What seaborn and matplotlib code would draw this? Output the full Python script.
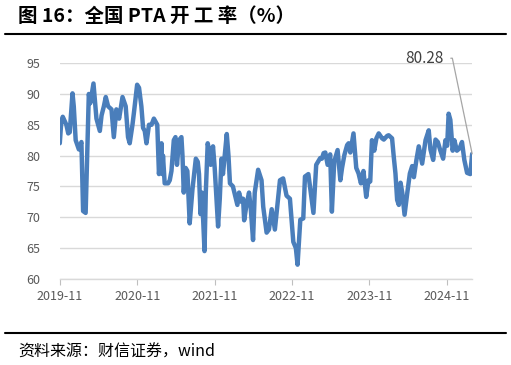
import pandas as pd
import matplotlib.pyplot as plt
import matplotlib.dates as mdates
import seaborn as sns

# -------------------------------
# data (PTA operating rate, %)
# -------------------------------
dates = [
    "2019-11-01", "2019-11-08", "2019-11-15", "2019-12-02", "2019-12-11", "2019-12-18",
    "2019-12-31", "2020-01-06", "2020-01-15", "2020-01-30", "2020-02-11", "2020-02-19",
    "2020-03-02", "2020-03-17", "2020-03-24", "2020-04-08", "2020-04-17", "2020-04-22",
    "2020-05-08", "2020-05-16", "2020-05-27", "2020-06-05", "2020-06-16", "2020-07-02",
    "2020-07-13", "2020-07-25", "2020-08-07", "2020-08-23", "2020-09-07", "2020-09-18",
    "2020-09-26", "2020-10-09", "2020-10-16", "2020-10-31", "2020-11-09", "2020-11-20",
    "2020-11-28", "2020-12-06", "2020-12-14", "2020-12-26", "2021-01-07", "2021-01-18",
    "2021-02-03", "2021-02-11", "2021-02-23", "2021-02-27", "2021-03-02", "2021-03-10",
    "2021-03-26", "2021-04-03", "2021-04-11", "2021-04-22", "2021-04-30", "2021-05-07",
    "2021-05-17", "2021-05-28", "2021-06-02", "2021-06-08", "2021-06-17", "2021-06-25",
    "2021-07-06", "2021-07-19", "2021-07-27", "2021-08-04", "2021-08-13", "2021-08-19",
    "2021-08-26", "2021-09-02", "2021-09-14", "2021-09-20", "2021-09-29", "2021-10-05",
    "2021-10-13", "2021-10-24", "2021-11-01", "2021-11-17", "2021-11-25", "2021-12-03",
    "2021-12-10", "2021-12-28", "2022-01-05", "2022-01-12", "2022-01-26", "2022-02-16",
    "2022-02-24", "2022-03-07", "2022-03-15", "2022-03-20", "2022-03-31", "2022-04-12",
    "2022-04-20", "2022-05-01", "2022-05-09", "2022-05-25", "2022-06-10", "2022-06-18",
    "2022-07-04", "2022-07-15", "2022-07-28", "2022-08-12", "2022-09-05", "2022-09-20",
    "2022-10-06", "2022-10-22", "2022-11-07", "2022-11-19", "2022-11-27", "2022-12-10",
    "2022-12-24", "2023-01-01", "2023-01-17", "2023-02-10", "2023-02-23", "2023-03-14",
    "2023-03-22", "2023-03-30", "2023-04-07", "2023-04-18", "2023-04-30", "2023-05-08",
    "2023-05-19", "2023-06-04", "2023-06-17", "2023-06-25", "2023-07-06", "2023-07-19",
    "2023-07-26", "2023-08-03", "2023-08-18", "2023-08-31", "2023-09-11", "2023-09-22",
    "2023-10-04", "2023-10-17", "2023-10-28", "2023-11-05", "2023-11-13", "2023-11-24",
    "2023-12-04", "2023-12-15", "2023-12-31", "2024-01-08", "2024-01-24", "2024-01-31",
    "2024-02-16", "2024-02-24", "2024-03-03", "2024-03-11", "2024-03-19", "2024-03-27",
    "2024-04-04", "2024-04-15", "2024-04-28", "2024-05-10", "2024-05-21", "2024-05-29",
    "2024-06-10", "2024-06-21", "2024-07-07", "2024-07-23", "2024-08-07", "2024-08-15",
    "2024-08-28", "2024-09-08", "2024-09-19", "2024-10-01", "2024-10-14", "2024-10-25",
    "2024-11-02", "2024-11-09", "2024-11-17", "2024-11-28", "2024-12-06", "2024-12-18",
    "2024-12-31", "2025-01-11", "2025-01-22", "2025-02-04", "2025-02-19", "2025-02-28",
]
rate = [
    82.0, 85.5, 86.3, 85.0, 83.6, 83.8,
    90.1, 88.0, 82.5, 81.0, 82.2, 71.0,
    70.7, 90.0, 88.5, 91.7, 88.0, 86.0,
    84.0, 86.5, 88.0, 89.5, 88.0, 87.5,
    83.0, 87.5, 86.0, 89.5, 88.0, 83.0,
    82.0, 85.0, 87.0, 91.5, 91.0, 88.0,
    84.5, 84.0, 82.0, 85.0, 85.0, 86.0,
    85.0, 77.0, 82.0, 77.0, 80.0, 75.5,
    75.5, 76.0, 77.5, 82.5, 83.0, 78.5,
    82.5, 83.0, 80.0, 74.0, 78.0, 77.5,
    69.0, 74.5, 77.0, 79.5, 79.0, 77.0,
    70.5, 74.0, 64.5, 74.0, 82.0, 81.0,
    78.5, 81.5, 78.0, 68.5, 73.0, 79.5,
    77.0, 83.5, 80.0, 75.5, 75.0, 72.0,
    74.0, 72.5, 73.0, 69.5, 72.0, 74.0,
    71.5, 66.3, 74.0, 77.7, 76.0, 71.7,
    67.5, 68.0, 71.3, 68.0, 76.0, 76.3,
    73.5, 73.0, 66.0, 65.0, 62.3, 69.6,
    69.8, 76.6, 77.0, 70.7, 78.5, 79.6,
    79.5, 80.4, 80.5, 78.5, 80.2, 70.9,
    79.0, 80.9, 76.0, 78.0, 80.1, 81.7,
    82.0, 80.5, 83.6, 78.0, 77.1, 75.5,
    77.5, 73.3, 76.0, 75.8, 82.5, 80.8,
    82.8, 83.6, 82.8, 82.6, 83.2, 83.3,
    82.8, 79.8, 77.1, 72.8, 72.0, 75.6,
    74.0, 70.4, 74.0, 77.1, 78.3, 76.5,
    79.3, 81.5, 78.7, 82.5, 84.1, 81.0,
    79.3, 82.6, 82.2, 80.8, 79.5, 82.5,
    81.6, 86.8, 85.8, 80.8, 82.5, 80.8,
    81.2, 82.2, 79.3, 77.2, 77.0, 80.28,
]
tick_labels = ["2019-11", "2020-11", "2021-11", "2022-11", "2023-11", "2024-11"]
y_ticks = [60, 65, 70, 75, 80, 85, 90, 95]

df = pd.DataFrame({"date": pd.to_datetime(dates), "rate": rate})

# -------------------------------
# style
# -------------------------------
sns.set_style("white")
plt.rcParams['font.family'] = ['Noto Sans CJK SC', 'DejaVu Sans']

fig = plt.figure(figsize=(5.11, 3.65), dpi=100)
ax = fig.add_axes([0.117, 0.236, 0.807, 0.591])

sns.lineplot(data=df, x="date", y="rate", ax=ax, color="#4A7EBB", linewidth=3.2)

ax.set_xlim(df["date"].iloc[0], df["date"].iloc[-1])
ax.set_ylim(60, 95)
ax.set_yticks(y_ticks)
ax.set_yticklabels([str(v) for v in y_ticks])
ax.yaxis.grid(True, color="#D9D9D9", linewidth=1)
ax.set_axisbelow(True)

tick_pos = pd.to_datetime([t + "-01" for t in tick_labels])
ax.set_xticks(tick_pos)
ax.set_xticklabels(tick_labels)
ax.xaxis.set_minor_locator(mdates.MonthLocator(bymonth=5))

for s in ["top", "right", "left"]:
    ax.spines[s].set_visible(False)
ax.spines["bottom"].set_color("#D9D9D9")
ax.spines["bottom"].set_linewidth(1)

ax.tick_params(axis="x", which="major", length=4, width=0.8, color="#BFBFBF",
               colors="#595959", labelsize=9, pad=4, direction="out", bottom=True)
ax.tick_params(axis="x", which="minor", length=0)
ax.tick_params(axis="y", length=0, colors="#595959", labelsize=9, pad=14)
ax.set_xlabel("")
ax.set_ylabel("")

# label on the last point, leader goes right then down to the point
ax.annotate("80.28", xy=(df["date"].iloc[-1], rate[-1]),
            xytext=(pd.Timestamp("2024-10-15"), 95.8), textcoords="data",
            ha="right", va="center", fontsize=11, color="#404040",
            annotation_clip=False,
            arrowprops=dict(arrowstyle="-", color="#A6A6A6", lw=0.9,
                            relpos=(1, 0.5), shrinkA=3, shrinkB=0,
                            connectionstyle="arc,angleA=0,armA=9,angleB=90,armB=0,rad=0"))

# title, rules and source note
fig.text(0.035, 0.955, "图 16：全国 PTA 开 工 率（%）", fontsize=14, fontweight="bold",
         ha="left", va="center", color="black")
fig.add_artist(plt.Line2D([0.01, 0.99], [0.908, 0.908], color="black", linewidth=1.5))
fig.add_artist(plt.Line2D([0.01, 0.99], [0.088, 0.088], color="black", linewidth=1.5))
fig.text(0.035, 0.035, "资料来源：财信证券，wind", fontsize=11.5, style="italic",
         ha="left", va="center", color="black")

fig.savefig("out.png", dpi=100, facecolor="white")
